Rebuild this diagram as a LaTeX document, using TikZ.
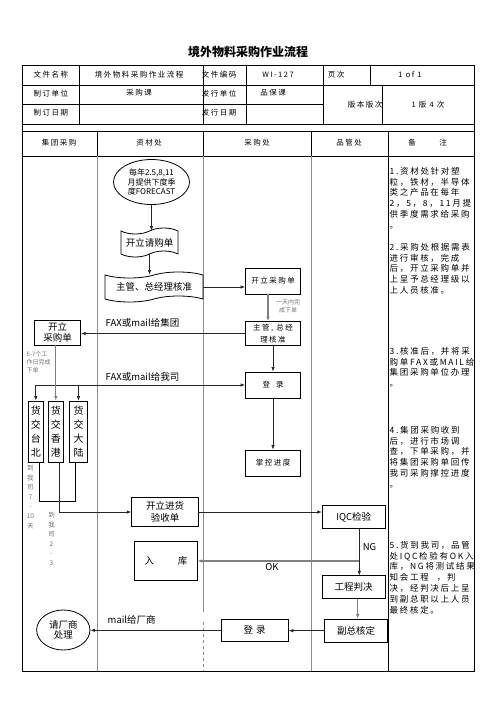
\documentclass[tikz,border=0pt]{standalone}
\usepackage{fontspec}
\setmainfont{Noto Sans CJK SC}
\newfontfamily\spaced{Noto Sans CJK SC}[LetterSpace=20]
\usetikzlibrary{arrows.meta,positioning,shapes.geometric,shapes.symbols,calc}

\tikzset{
  frame/.style={draw, line width=0.8pt},
  lane/.style={draw=black!45, line width=0.6pt},
  cell/.style={inner sep=0pt, font=\spaced\fontsize{7.5}{9}\selectfont},
  box/.style={draw, line width=0.8pt, align=center, inner sep=1pt, font=\spaced\fontsize{7.5}{12}\selectfont},
  bigbox/.style={box, font=\fontsize{9.5}{11.5}\selectfont},
  tapebox/.style={tape, draw, line width=0.8pt, tape bend height=6pt, inner sep=1pt, font=\fontsize{9.5}{11}\selectfont},
  oval/.style={ellipse, draw, line width=0.8pt, align=center, inner sep=0pt},
  vbox/.style={draw, line width=0.8pt, minimum height=61pt, align=center, inner sep=0pt, font=\fontsize{10}{14}\selectfont},
  arr/.style={-{Latex[length=4.5pt,width=3.5pt]}, line width=0.8pt, draw=black!85},
  garr/.style={arr, draw=black!50, line width=1.3pt},
  lbl/.style={inner sep=0pt, font=\fontsize{9.5}{11}\selectfont},
  tiny/.style={inner sep=0pt, align=center, text=black!55, font=\fontsize{6}{8}\selectfont},
  remark/.style={anchor=north west, inner sep=0pt, align=left, font=\spaced\fontsize{8.5}{10.8}\selectfont}
}

\begin{document}
\begin{tikzpicture}[x=1pt, y=-1pt]
\useasboundingbox (0,0) rectangle (496,702);

\node[font=\fontsize{12}{14}\selectfont\bfseries] (TT) at (248,52) {境外物料采购作业流程};

% head table
\draw[frame] (22,65) rectangle (474,124);
\draw[frame] (22,85) -- (474,85) (22,104.5) -- (323,104.5);
\draw[frame] (79,65) -- (79,124) (203,65) -- (203,124) (246,65) -- (246,124)
  (323,65) -- (323,124) (370,65) -- (370,85) (382,85) -- (382,124);
\draw[frame] (22,124) -- (22,131) (474,124) -- (474,131);
\draw[frame] (22,131) rectangle (474,156);
\draw[frame] (97,131) -- (97,156) (203,131) -- (203,156) (311,131) -- (311,156) (388,131) -- (388,156);
\foreach \x/\y/\t [count=\i] in {51/75/文件名称, 139/75/境外物料采购作业流程, 219/75/文件编码,
  278/75/WI-127, 336/75/页次, 410/75/1 of 1, 51/94/制订单位, 139/93/采购课, 219/94/发行单位,
  273/93/品保课, 51/113/制订日期, 219/113/发行日期, 365/105/版本版次, 428/105/1 版 4 次,
  59/143/集团采购, 149/143/资材处, 257/143/采购处, 349/143/品管处, 412/143/备, 443/143/注}
  \node[cell] (C\i) at (\x,\y) {\t};

% body
\draw[frame] (22,156) -- (22,671) -- (474,671) -- (474,156);
\draw[frame] (388,156) -- (388,671);
\draw[lane] (97,156) -- (97,671) (311,156) -- (311,671) (203,156) -- (203,612);
\draw[lane, dashed] (203,622) -- (203,671);

% 资材处
\node[oval, minimum width=76pt, minimum height=45pt, font=\fontsize{8}{9.5}\selectfont] (FC) at (151.5,182) {每年2.5,8,11\\月提供下度季\\度FORECAST};
\node[tapebox, minimum width=57pt, minimum height=29pt] (QG) at (149.5,242.5) {开立请购单};
\node[tapebox, minimum width=98pt, minimum height=30pt] (ZJ) at (154,287) {主管、总经理核准};
\node[bigbox, minimum width=66.6pt, minimum height=28.7pt] (YS) at (165,512) {开立进货\\验收单};
\node[bigbox, minimum width=62.3pt, minimum height=38.3pt] (RK) at (166,561) {入\hspace{24pt}库};

% 采购处
\node[box, minimum width=55pt, minimum height=26pt] (CG) at (273,281) {开立采购单};
\node[box, minimum width=55pt, minimum height=24pt] (HZ) at (273,333.5) {主管, 总经\\理核准};
\node[box, minimum width=55pt, minimum height=26pt] (DJ) at (273,385) {登\hspace{6pt}录};
\node[box, minimum width=55pt, minimum height=26pt] (ZK) at (273,463) {掌控进度};
\node[bigbox, minimum width=67.3pt, minimum height=22.7pt] (DJ2) at (254.7,630.3) {登\hspace{3pt}录};

% 品管处
\node[bigbox, minimum width=62.7pt, minimum height=22.6pt] (IQC) at (353.7,517) {IQC检验};
\node[bigbox, minimum width=62.7pt, minimum height=22.3pt] (GC) at (353.7,587) {工程判决};
\node[bigbox, minimum width=62.3pt, minimum height=23.3pt] (FZ) at (356,630.7) {副总核定};

% 集团采购
\node[bigbox, minimum width=46.4pt, minimum height=25pt, font=\fontsize{9.5}{10.7}\selectfont] (JC) at (57.5,332.5) {开立\\采购单};
\node[vbox, minimum width=15pt] (TB) at (35.8,431.5) {货\\交\\台\\北};
\node[vbox, minimum width=15pt] (XG) at (55.8,431.5) {货\\交\\香\\港};
\node[vbox, minimum width=18.4pt] (DL) at (78.5,431.5) {货\\交\\大\\陆};
\node[oval, minimum width=53.3pt, minimum height=40pt, font=\fontsize{9.5}{9.5}\selectfont] (CS) at (63.3,630) {请厂商\\处理};

% small notes and labels
\node[tiny] (N1) at (288,306.5) {一天内完\\成下单};
\node[tiny, anchor=north west, align=left] (N2) at (26.5,351) {5-7个工\\作日完成\\下单};
\node[tiny, anchor=north, font=\fontsize{6.5}{9.6}\selectfont] (N3) at (30.5,465) {到\\我\\司\\7\\-\\10\\天};
\node[tiny, anchor=north, font=\fontsize{6.5}{9.6}\selectfont] (N4) at (51.5,512) {到\\我\\司\\2\\-\\3};
\node[lbl] (L1) at (142.5,323) {FAX或mail给集团};
\node[lbl] (L2) at (142.5,377) {FAX或mail给我司};
\node[lbl] (L3) at (131.7,620) {mail给厂商};
\node[lbl] (L4) at (272,567) {OK};
\node[lbl] (L5) at (369.5,547) {NG};

% connectors
\draw[arr] (FC.south) -- (FC.south |- QG.north);
\draw[arr] (QG.south) -- (QG.south |- ZJ.north);
\draw[arr] (ZJ.east) -- (ZJ.east -| CG.west);
\draw[garr] ([xshift=-5pt]CG.south) -- ([xshift=-5pt]HZ.north);
\draw[arr] (HZ.west) -- (HZ.west -| JC.east);
\draw[arr] (HZ) -- (DJ);
\draw[arr] (DJ) -- (ZK);
\coordinate (F2) at (TB.north |- DJ.west);
\draw[arr] (F2) -- (DJ.west);
\draw[arr] (F2) -- (TB.north);
\draw[arr] (F2 -| DL.north) -- (DL.north);
\draw[arr, draw=black!50] (XG.north |- JC.south) -- (XG.north);
\draw[line width=0.8pt] ([xshift=3.5pt]TB.south) -- ++(0,39) -| ([xshift=-3pt]DL.south);
\draw[arr] ([xshift=4pt]XG.south) |- (YS.west);
\draw[arr] (YS.east) -- (YS.east -| IQC.west);
\draw[arr] ([xshift=5.6pt]IQC.south) -- ([xshift=5.6pt]IQC.south |- GC.north);
\coordinate (OK) at ([xshift=5.6pt]IQC.south |- RK.east);
\draw[garr] (OK) -- (RK.east);
\draw[garr] ([xshift=4pt]GC.south) -- ([xshift=4pt]GC.south |- FZ.north);
\draw[arr] (FZ.west) -- (FZ.west -| DJ2.east);
\draw[arr] (DJ2.west) -- (DJ2.west -| CS.east);

% remarks
\node[remark] (R1) at (389.5,167) {1.资材处针对塑\\粒，铁材，半导体\\类之产品在每年\\2，5，8，11月提\\供季度需求给采购\\。};
\node[remark] (R2) at (389.5,243) {2.采购处根据需表\\进行审核，完成\\后，开立采购单并\\上呈予总经理级以\\上人员核准。};
\node[remark] (R3) at (389.5,347) {3.核准后，并将采\\购单FAX或MAIL给\\集团采购单位办理\\。};
\node[remark] (R4) at (389.5,426) {4.集团采购收到\\后，进行市场调\\查，下单采购，并\\将集团采购单回传\\我司采购撑控进度\\。};
\node[remark] (R5) at (389.5,541) {5.货到我司，品管\\处IQC检验有OK入\\库，NG将测试结果\\知会工程\hspace{8pt}，判\\决，经判决后上呈\\到副总职以上人员\\最终核定。};
\end{tikzpicture}
\end{document}
